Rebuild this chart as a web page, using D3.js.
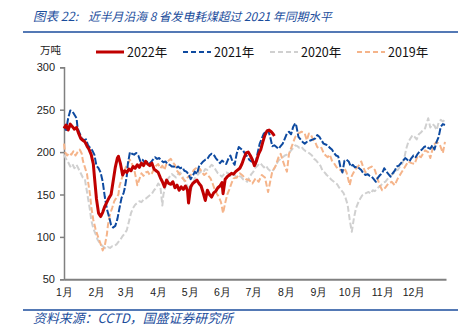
<!DOCTYPE html>
<html><head><meta charset="utf-8">
<script src="https://cdn.jsdelivr.net/npm/d3@7"></script>
<style>
html,body{margin:0;padding:0;background:#fff;}
svg{display:block;font-family:"Noto Sans CJK SC","Noto Sans",sans-serif;}
</style></head>
<body><svg id="c" width="461" height="336"></svg>
<script>
const titleLead = "图表 22:";
const titleText = "近半月沿海 8 省发电耗煤超过 2021 年同期水平";
const sourceText = "资料来源：CCTD，国盛证券研究所";
const unitText = "万吨";
const yTicks = [50, 100, 150, 200, 250, 300];
const monthLabels = ["1月","2月","3月","4月","5月","6月","7月","8月","9月","10月","11月","12月"];
const monthStartDays = [0,31,59,90,120,151,181,212,243,273,304,334];
const seriesNames = ["2022年","2021年","2020年","2019年"];

const s2022 = [[0,228],[2,232],[4,226],[6,233],[8,230],[10,227],[12,229],[14,222],[16,216],[18,214],[20,212],[22,207],[24,203],[26,197],[28,186],[29,172],[31,145],[33,128],[35,124],[37,129],[39,136],[41,141],[43,146],[45,150],[47,166],[49,182],[51,193],[52,195],[54,186],[56,173],[58,178],[60,176],[62,180],[64,178],[66,183],[68,181],[70,185],[72,182],[74,187],[76,184],[78,189],[80,186],[82,184],[84,187],[86,180],[88,178],[90,176],[92,170],[94,165],[96,159],[98,167],[100,163],[102,162],[104,165],[106,158],[108,161],[110,155],[112,159],[114,156],[116,160],[118,155],[119,140],[121,159],[123,163],[125,165],[127,167],[129,163],[131,160],[133,152],[135,143],[137,155],[139,150],[141,147],[143,152],[145,154],[147,158],[149,160],[151,164],[152,151],[154,168],[156,171],[158,173],[160,175],[162,174],[164,177],[166,179],[168,181],[170,186],[172,193],[174,199],[176,200],[178,196],[180,191],[182,184],[184,190],[186,198],[188,203],[190,212],[192,220],[194,225],[196,226],[198,224],[200,221],[201,219]];

const s2021 = [[0,230],[2,226],[4,240],[6,249],[8,248],[10,244],[12,240],[13,228],[15,222],[17,216],[19,214],[21,215],[23,208],[25,205],[27,202],[29,197],[31,184],[33,181],[35,176],[37,165],[39,147],[41,133],[43,124],[45,114],[47,111],[49,113],[51,121],[53,134],[55,146],[57,152],[58,157],[60,172],[61,186],[63,200],[65,198],[67,197],[69,199],[71,196],[73,189],[75,191],[77,188],[79,189],[81,186],[83,188],[85,191],[87,194],[89,192],[91,193],[93,190],[95,188],[97,189],[99,186],[101,185],[103,183],[105,183],[107,181],[109,183],[111,181],[113,182],[115,178],[117,177],[119,174],[121,168],[123,172],[125,177],[127,174],[129,183],[131,186],[133,189],[135,191],[137,192],[139,196],[141,198],[143,197],[145,193],[147,190],[149,187],[151,190],[153,188],[155,186],[157,192],[159,196],[161,189],[163,185],[165,198],[167,206],[169,204],[171,202],[173,198],[175,195],[177,191],[179,189],[181,188],[183,186],[185,199],[187,210],[189,216],[191,222],[193,224],[195,226],[197,218],[199,207],[201,208],[203,206],[205,204],[207,207],[209,210],[211,216],[213,222],[215,224],[217,221],[219,230],[221,234],[222,231],[224,218],[226,215],[228,212],[230,210],[232,212],[234,213],[236,214],[238,215],[240,216],[242,220],[244,218],[246,214],[248,210],[250,209],[252,208],[254,205],[256,203],[258,199],[260,196],[262,195],[264,183],[266,176],[268,190],[270,191],[272,189],[274,183],[276,185],[278,182],[280,183],[282,181],[284,179],[286,175],[288,173],[290,174],[292,172],[294,171],[296,168],[298,165],[300,170],[302,173],[304,175],[306,181],[308,177],[310,174],[312,171],[314,175],[316,178],[318,183],[320,184],[322,187],[324,190],[326,193],[328,191],[330,189],[332,193],[334,196],[336,194],[338,198],[340,201],[342,203],[344,206],[346,207],[348,205],[350,204],[352,208],[354,203],[356,212],[358,218],[360,230],[362,233],[364,232]];

const s2020 = [[0,197],[2,192],[4,188],[6,183],[8,186],[10,181],[12,185],[14,180],[16,175],[18,170],[20,168],[21,160],[22,153],[23,145],[24,138],[25,130],[26,120],[28,110],[30,104],[32,97],[34,93],[36,90],[38,88],[40,86],[42,88],[44,87],[46,89],[48,89],[50,91],[52,94],[54,97],[56,101],[58,104],[60,108],[62,118],[64,128],[66,134],[68,138],[70,140],[72,142],[74,141],[76,144],[78,145],[80,147],[82,149],[84,151],[86,155],[88,158],[90,163],[92,160],[94,137],[95,150],[97,160],[99,168],[101,171],[103,174],[105,172],[107,170],[109,174],[111,176],[113,172],[115,166],[117,162],[119,157],[121,154],[123,162],[125,169],[127,172],[129,175],[131,177],[133,176],[135,180],[137,179],[139,182],[141,185],[143,183],[145,179],[147,175],[149,173],[151,171],[153,174],[155,176],[157,175],[159,172],[161,174],[163,173],[165,170],[167,172],[169,171],[171,168],[173,167],[175,165],[177,170],[179,174],[181,177],[183,182],[185,184],[187,187],[189,185],[191,182],[193,184],[195,180],[197,178],[199,177],[201,181],[203,186],[205,190],[207,192],[209,194],[211,196],[213,197],[215,199],[217,202],[219,205],[221,208],[223,207],[225,205],[227,206],[229,203],[231,201],[233,200],[235,198],[237,196],[239,192],[241,190],[243,187],[245,184],[247,178],[249,176],[251,173],[253,171],[255,168],[257,166],[259,164],[261,162],[263,158],[265,155],[267,152],[269,146],[271,138],[273,120],[275,106],[277,122],[279,134],[281,140],[283,145],[285,149],[287,150],[289,152],[291,153],[293,151],[295,155],[297,154],[299,157],[301,159],[303,161],[305,164],[307,165],[309,168],[311,171],[313,173],[315,175],[317,178],[319,179],[321,183],[323,186],[325,192],[327,204],[329,212],[331,216],[333,220],[335,218],[337,215],[339,221],[341,223],[343,226],[345,228],[347,236],[348,240],[350,229],[352,233],[354,231],[356,226],[358,235],[360,238],[362,236],[364,238]];

const s2019 = [[0,210],[1,200],[3,196],[5,199],[7,197],[9,201],[11,196],[13,200],[15,203],[17,198],[18,190],[20,182],[22,174],[23,165],[25,149],[26,136],[28,120],[30,110],[32,102],[34,95],[36,88],[37,84],[39,90],[41,103],[42,114],[44,127],[46,134],[48,142],[50,146],[52,150],[53,160],[55,168],[57,175],[59,182],[61,186],[63,191],[65,186],[67,180],[69,168],[70,161],[72,168],[74,175],[76,172],[78,176],[80,177],[82,173],[84,175],[86,180],[88,184],[90,186],[92,181],[94,184],[96,179],[98,187],[100,190],[102,192],[104,188],[106,185],[108,178],[110,175],[112,171],[114,168],[116,166],[118,170],[120,172],[122,174],[124,179],[126,181],[128,177],[130,180],[132,176],[134,173],[136,175],[138,172],[140,169],[142,163],[144,156],[146,151],[148,147],[150,141],[152,128],[154,140],[156,150],[158,156],[160,163],[162,169],[165,170],[168,175],[171,172],[174,168],[177,167],[180,163],[183,169],[186,165],[189,173],[192,170],[195,153],[197,165],[199,177],[202,183],[205,194],[207,198],[209,190],[211,183],[213,177],[215,198],[218,208],[221,218],[224,222],[227,224],[230,222],[232,214],[234,222],[236,220],[238,215],[240,212],[242,206],[244,204],[246,205],[248,199],[250,196],[252,194],[254,197],[256,190],[258,187],[260,183],[262,180],[264,179],[266,177],[268,181],[270,176],[273,161],[275,172],[278,179],[281,183],[284,189],[286,182],[288,176],[291,181],[294,183],[297,179],[300,167],[302,160],[304,155],[307,158],[310,163],[313,165],[316,161],[319,169],[322,175],[326,183],[329,189],[332,187],[335,186],[338,196],[341,194],[345,202],[348,200],[350,193],[353,208],[356,212],[359,209],[362,199],[364,212]];

const svg = d3.select("#c");
const blue = "#1B4D9C";
const x = d3.scaleLinear().domain([0,365]).range([64,446]);
const y = d3.scaleLinear().domain([50,300]).range([279.3,67.3]);

// title
svg.append("text").attr("x",33).attr("y",21).attr("fill",blue)
  .attr("font-size",12.5).attr("font-style","italic").text(titleLead);
svg.append("text").attr("x",88).attr("y",21).attr("fill",blue)
  .attr("font-size",11.8).attr("font-style","italic").text(titleText);
svg.append("line").attr("x1",23).attr("x2",458).attr("y1",32).attr("y2",32)
  .attr("stroke",blue).attr("stroke-width",1.5);
// footer
svg.append("line").attr("x1",23).attr("x2",458).attr("y1",310).attr("y2",310)
  .attr("stroke",blue).attr("stroke-width",1.5);
svg.append("text").attr("x",33).attr("y",323).attr("fill",blue)
  .attr("font-size",12.9).attr("font-style","italic").text(sourceText);

// unit
svg.append("text").attr("x",40).attr("y",54).attr("font-size",10.5).attr("fill","#222").text(unitText);

// axes
const yAxis = d3.axisLeft(y).tickValues(yTicks).tickSize(4).tickPadding(5);
const gy = svg.append("g").attr("transform","translate(64,0)").call(yAxis);
gy.selectAll("path,line").attr("stroke","#808080").attr("stroke-width",1.5);
gy.selectAll("text").attr("font-size",11).attr("fill","#222").attr("font-family","Liberation Sans, Arial, sans-serif");

const xAxis = d3.axisBottom(x).tickValues(monthStartDays).tickSize(0).tickPadding(9)
  .tickFormat((d,i)=>monthLabels[i]);
const gx = svg.append("g").attr("transform","translate(0,279.3)").call(xAxis);
gx.select("path").attr("stroke","#808080").attr("stroke-width",2);
gx.selectAll("text").attr("font-size",10.5).attr("fill","#222");

// lines
const line = d3.line().x(d=>x(d[0])).y(d=>y(d[1]));
const styles = [
  {data:s2020, color:"#D0D0D0", w:2, dash:"6,2.5"},
  {data:s2019, color:"#F5B48A", w:2, dash:"6,2.5"},
  {data:s2021, color:"#0E4AA0", w:2, dash:"7,2"},
  {data:s2022, color:"#C00000", w:3, dash:null},
];
styles.forEach(s=>{
  const p = svg.append("path").datum(s.data).attr("d",line).attr("fill","none")
    .attr("stroke",s.color).attr("stroke-width",s.w).attr("stroke-linejoin","round");
  if(s.dash) p.attr("stroke-dasharray",s.dash);
});

// legend
const legendItems = [
  {name:seriesNames[0], color:"#C00000", w:3, dash:null, x:96},
  {name:seriesNames[1], color:"#0E4AA0", w:2, dash:"5,3", x:183},
  {name:seriesNames[2], color:"#D0D0D0", w:2, dash:"5,3", x:270},
  {name:seriesNames[3], color:"#F5B48A", w:2, dash:"5,3", x:357},
];
legendItems.forEach(l=>{
  const ln = svg.append("line").attr("x1",l.x).attr("x2",l.x+28).attr("y1",52).attr("y2",52)
    .attr("stroke",l.color).attr("stroke-width",l.w);
  if(l.dash) ln.attr("stroke-dasharray",l.dash);
  svg.append("text").attr("x",l.x+31).attr("y",57).attr("font-size",12.5).attr("fill","#111")
    .text(l.name);
});
</script></body></html>
